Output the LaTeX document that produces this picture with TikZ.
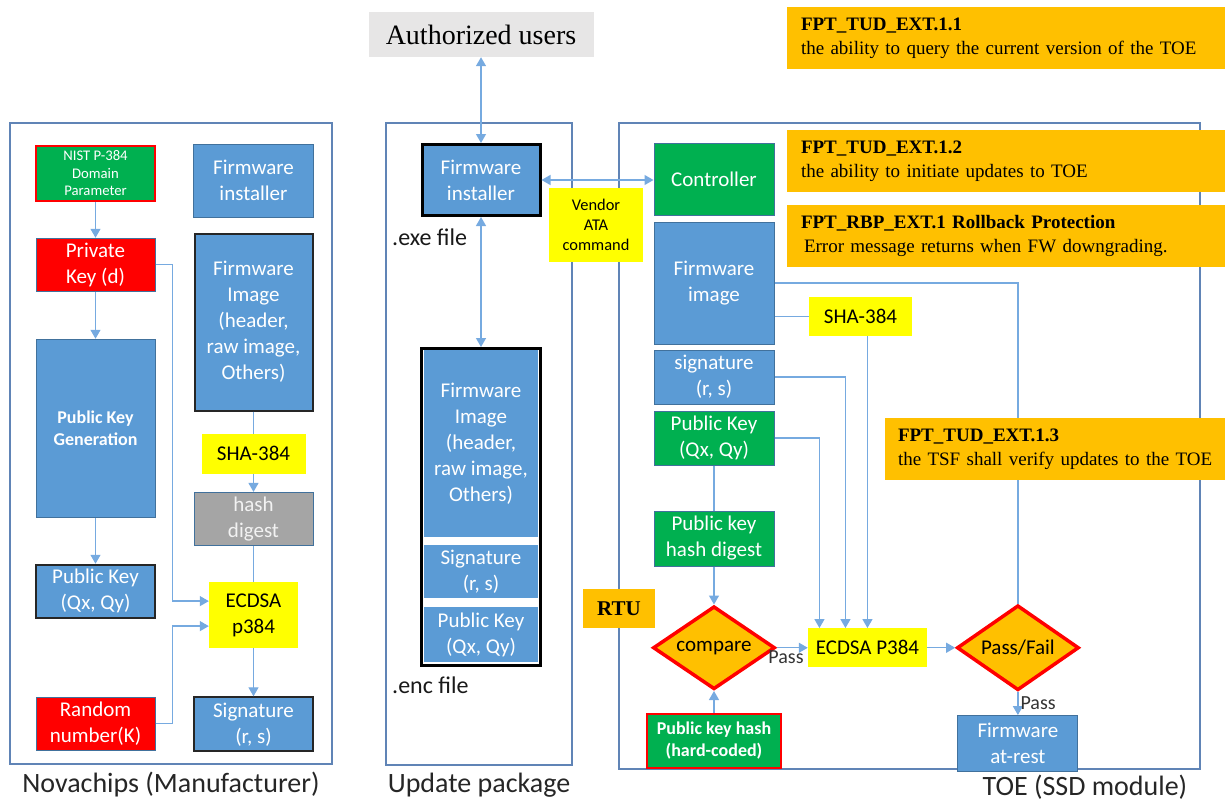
\documentclass[tikz,border=0pt]{standalone}
\usepackage{fontspec}
\setmainfont{Carlito}
\newfontfamily\tnr{Liberation Serif}
\usetikzlibrary{shapes.geometric, arrows.meta, positioning, calc}

\definecolor{fwblue}{RGB}{91,155,213}
\definecolor{edgeblue}{RGB}{65,113,156}
\definecolor{okgreen}{RGB}{0,176,80}
\definecolor{keyred}{RGB}{255,0,0}
\definecolor{calcyellow}{RGB}{255,255,0}
\definecolor{reqorange}{RGB}{255,192,0}
\definecolor{hashgray}{RGB}{165,165,165}
\definecolor{usergray}{RGB}{231,230,230}
\definecolor{linkblue}{RGB}{118,170,224}
\definecolor{panelblue}{RGB}{96,132,182}

\newcommand{\boxfont}{\fontsize{21}{26}\selectfont}
\newcommand{\smallboxfont}{\fontsize{14.7}{17.5}\selectfont}
\newcommand{\boldboxfont}{\bfseries\fontsize{18}{22}\selectfont}

\begin{document}
\begin{tikzpicture}[
    x=1pt, y=-1pt,
    % 1. styles
    >={Triangle[length=9pt, width=10pt]},
    fwbox/.style={draw=edgeblue, line width=1pt, fill=fwblue, text=white, rectangle, align=center, inner sep=2pt, font=\boxfont, minimum width=120pt},
    darkedge/.style={draw=black!85, line width=2pt},
    grnbox/.style={fwbox, fill=okgreen},
    keybox/.style={fwbox, fill=keyred},
    calcbox/.style={fill=calcyellow, text=black, rectangle, align=center, inner sep=2pt, font=\boxfont},
    hashbox/.style={fwbox, fill=hashgray, text=white!95!black},
    reqbox/.style={fill=reqorange, rectangle, align=left, inner xsep=14pt, minimum height=62pt, font=\tnr\fontsize{19}{24}\selectfont},
    rtubox/.style={fill=reqorange, rectangle, minimum width=72pt, minimum height=39pt, font=\tnr\bfseries\fontsize{21}{24}\selectfont},
    decision/.style={diamond, aspect=1.47, draw=keyred, line width=3.5pt, fill=reqorange, inner sep=0pt, font=\boxfont, minimum width=122pt, minimum height=83pt},
    panel/.style={draw=panelblue, line width=1.5pt, rectangle},
    encframe/.style={draw=black, line width=3pt, fill=white, rectangle},
    caption/.style={font=\fontsize{28}{32}\selectfont, text=black!85},
    filelbl/.style={font=\fontsize{24}{28}\selectfont, text=black!90, inner sep=1pt},
    lbl/.style={font=\fontsize{20}{24}\selectfont, text=black!80, inner sep=2pt},
    link/.style={draw=linkblue, line width=1.3pt}
]
    \useasboundingbox (0,0) rectangle (1225,803);

    % =================================================================
    % Panels
    % =================================================================
    \node[panel, minimum width=322pt, minimum height=641pt] (mfr) at (171,443.5) {};
    \node[panel, minimum width=186pt, minimum height=642pt] (pkg) at (479,444) {};
    \node[panel, minimum width=581pt, minimum height=646pt] (toe) at (909.5,446) {};
    \node[caption] (mfrlbl) at (171,785) {Novachips (Manufacturer)};
    \node[caption] (pkglbl) at (479,785) {Update package};
    \node[caption] (toelbl) at (1085,787) {TOE (SSD module)};

    % =================================================================
    % I. Manufacturer side
    % =================================================================
    \node[grnbox, draw=keyred, line width=1.5pt, minimum width=119pt, minimum height=55pt, font=\smallboxfont] (nist) at (95.5,173.5) {NIST P-384\\Domain\\Parameter};
    \node[keybox, minimum width=119pt, minimum height=53pt] (prvkey) [below=36pt of nist] {Private\\Key (d)};
    \node[fwbox, minimum width=119pt, minimum height=178pt, font=\boldboxfont] (pkgen) [below=47pt of prvkey] {Public Key\\Generation};
    \node[fwbox, darkedge, minimum width=119pt, minimum height=53pt] (pubkey) [below=46pt of pkgen] {Public Key\\(Qx, Qy)};
    \node[keybox, minimum width=119pt, minimum height=53pt] (rndnum) [below=78pt of pubkey] {Random\\number(K)};

    \node[fwbox, minimum height=73pt] (fwinst) at (253.5,180.5) {Firmware\\installer};
    \node[fwbox, darkedge, minimum width=118pt, minimum height=177pt] (fwimg) [below=15pt of fwinst] {Firmware\\Image\\(header,\\raw image,\\Others)};
    \node[calcbox, minimum width=104pt, minimum height=40pt] (sha) [below=22pt of fwimg] {SHA-384};
    \node[hashbox, minimum width=119pt, minimum height=53pt] (hash) [below=18pt of sha] {hash\\digest};
    \node[calcbox, minimum width=89pt, minimum height=66pt] (ecdsa) [below=36pt of hash] {ECDSA\\p384};
    \node[fwbox, darkedge, minimum width=119pt, minimum height=54pt] (sig) [below=48pt of ecdsa] {Signature\\(r, s)};

    % =================================================================
    % II. Update package
    % =================================================================
    \node[fill=usergray, minimum width=225pt, minimum height=45pt, font=\tnr\fontsize{28}{32}\selectfont] (users) at (481,34.5) {Authorized users};
    \node[fwbox, draw=black, line width=3pt, minimum width=118pt, minimum height=71pt] (minst) at (481,180) {Firmware\\installer};
    \node[filelbl, anchor=west] (exelbl) at (391,237) {.exe file};
    \node[encframe, minimum width=119pt, minimum height=317pt] (encfile) at (481,507) {};
    \node[fwbox, draw=none, minimum width=114pt, minimum height=187pt] (encimg) at (481,443.5) {Firmware\\Image\\(header,\\raw image,\\Others)};
    \node[fwbox, draw=none, minimum width=114pt, minimum height=53pt] (encsig) [below=7pt of encimg] {Signature\\(r, s)};
    \node[fwbox, draw=none, minimum width=114pt, minimum height=55pt] (enckey) [below=8pt of encsig] {Public Key\\(Qx, Qy)};
    \node[filelbl, anchor=west] (enclbl) at (391,685) {.enc file};
    \node[calcbox, minimum width=94pt, minimum height=74pt, font=\fontsize{16.4}{20}\selectfont] (vendor) at (596,225) {Vendor\\ATA\\command};

    % =================================================================
    % III. TOE (SSD module)
    % =================================================================
    \node[grnbox, minimum height=72pt] (ctrl) at (714,179) {Controller};
    \node[fwbox, minimum height=122pt] (tfwimg) [below=6pt of ctrl] {Firmware\\image};
    \node[fwbox, minimum height=54pt] (tsig) [below=5pt of tfwimg] {signature\\(r, s)};
    \node[grnbox, minimum height=54pt] (tpub) [below=6pt of tsig] {Public Key\\(Qx, Qy)};
    \node[grnbox, minimum height=55pt] (pkhd) [below=45pt of tpub] {Public key\\hash digest};
    \node[decision] (cmp) [below=38pt of pkhd] {compare};
    \node[grnbox, draw=keyred, line width=1.5pt, minimum width=134pt, minimum height=54pt, font=\boldboxfont] (hard) [below=22pt of cmp] {Public key hash\\(hard-coded)};
    \node[calcbox, minimum width=119pt, minimum height=39pt] (ecdsa2) [right=31pt of cmp] {ECDSA P384};
    \node[decision, minimum height=85pt] (pf) [right=28pt of ecdsa2] {Pass/Fail};
    \node[fwbox, minimum height=56pt] (rest) [below=23pt of pf] {Firmware\\at-rest};
    \node[calcbox, minimum width=103pt, minimum height=39pt] (tsha) at (860.5,316.5) {SHA-384};
    \node[rtubox] (rtu) at (619,608.5) {RTU};

    % =================================================================
    % Flow lines
    % =================================================================
    \draw[link,->] (nist) -- (prvkey);
    \draw[link,->] (prvkey) -- (pkgen);
    \draw[link,->] (pkgen) -- (pubkey);
    \draw[link,->] (prvkey.east) -- ++(17,0) |- ($(ecdsa.west)+(0,-14)$);
    \draw[link,->] (rndnum.east) -- ++(17,0) |- ($(ecdsa.west)+(0,11)$);
    \draw[link] (fwimg) -- (sha);
    \draw[link,->] (sha) -- (hash);
    \draw[link] (hash) -- (ecdsa);
    \draw[link,->] (ecdsa) -- (sig);

    \draw[link,<->] (users) -- (minst);
    \draw[link,<->] (minst) -- (encfile);
    \draw[link,<->] (minst.east) -- (minst.east -| ctrl.west);

    \draw[link] (tfwimg.east) -| (pf.north);
    \draw[link] (tfwimg.east |- tsha.west) -- (tsha.west);
    \draw[link,->] (tsha.south -| ecdsa2.north) -- (ecdsa2.north);
    \draw[link,->] (tsig.east) -| ($(ecdsa2.north)+(-22,0)$);
    \draw[link,->] (tpub.east) -| ($(ecdsa2.north)+(-48,0)$);
    \draw[link] (tpub) -- (pkhd);
    \draw[link,->] (pkhd) -- (cmp);
    \draw[link,->] (hard) -- (cmp);
    \draw[link,->] (cmp) -- (ecdsa2) node[lbl, pos=0.3, below] {Pass};
    \draw[link,->] (ecdsa2) -- (pf);
    \draw[link,->] (pf) -- (rest) node[lbl, midway, right] {Pass};

    % =================================================================
    % Requirements (on top)
    % =================================================================
    \node[reqbox, text width=410pt] (req1) at (1006,38) {\textbf{FPT\_TUD\_EXT.1.1}\\the ability to query the current version of the TOE};
    \node[reqbox, text width=410pt] (req2) at (1006,161) {\textbf{FPT\_TUD\_EXT.1.2}\\the ability to initiate updates to TOE};
    \node[reqbox, text width=410pt] (req3) at (1006,236) {\textbf{FPT\_RBP\_EXT.1 Rollback Protection}\\\hspace*{3pt}Error message returns when FW downgrading.};
    \node[reqbox, text width=340pt, inner xsep=13pt] (req4) at (1068,449) {\textbf{FPT\_TUD\_EXT.1.3}\\the TSF shall verify updates to the TOE};

\end{tikzpicture}
\end{document}
